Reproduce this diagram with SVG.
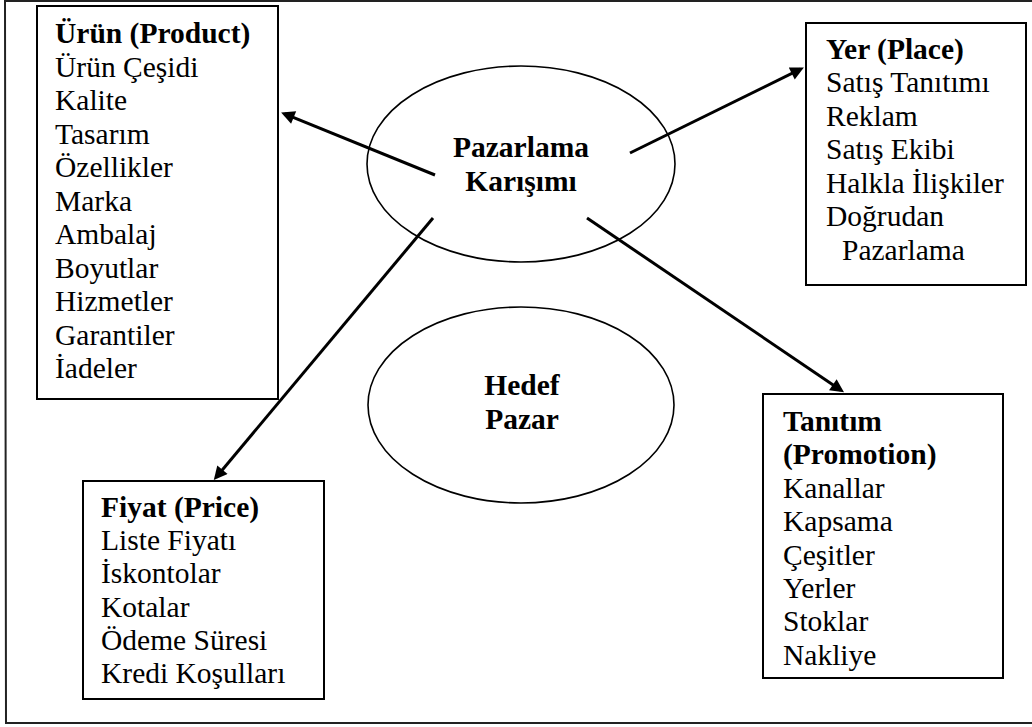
<svg xmlns="http://www.w3.org/2000/svg" width="1032" height="727" viewBox="0 0 1032 727">
<style>
.t{font-family:'Liberation Serif','Tinos','DejaVu Serif','Noto Serif',serif;font-size:29.5px;fill:#000}
.b{font-weight:bold}
.box{fill:#fff;stroke:#000;stroke-width:2}
.ell{fill:#fff;stroke:#000;stroke-width:1.6}
.con{stroke:#000;stroke-width:3;fill:none;marker-end:url(#arr)}
</style>
<defs>
<marker id="arr" viewBox="0 0 10 10" markerWidth="6" markerHeight="4.5" refX="7.22" refY="5" orient="auto" markerUnits="strokeWidth">
<path d="M0,0 L10,5 L0,10 z" fill="#000"/>
</marker>
</defs>
<rect width="1032" height="727" fill="#fff"/>
<path d="M1032,1 L5,1 L6,723 L1032,723" fill="none" stroke="#222" stroke-width="2"/>
<g id="pazarlama">
<ellipse class="ell" cx="521" cy="164" rx="154" ry="98"/>
<text class="t b" x="521" y="157" text-anchor="middle">Pazarlama</text>
<text class="t b" x="521" y="190.5" text-anchor="middle">Karışımı</text>
</g>
<g id="hedef">
<ellipse class="ell" cx="521" cy="405" rx="153" ry="98"/>
<text class="t b" x="522" y="395" text-anchor="middle">Hedef</text>
<text class="t b" x="522" y="429" text-anchor="middle">Pazar</text>
</g>
<g id="urun">
<rect class="box" x="37" y="6" width="241" height="393"/>
<text class="t b" x="55" y="43">Ürün (Product)</text>
<text class="t" x="55" y="76.5">Ürün Çeşidi</text>
<text class="t" x="55" y="110">Kalite</text>
<text class="t" x="55" y="143.5">Tasarım</text>
<text class="t" x="55" y="177">Özellikler</text>
<text class="t" x="55" y="210.5">Marka</text>
<text class="t" x="55" y="244">Ambalaj</text>
<text class="t" x="55" y="277.5">Boyutlar</text>
<text class="t" x="55" y="311">Hizmetler</text>
<text class="t" x="55" y="344.5">Garantiler</text>
<text class="t" x="55" y="378">İadeler</text>
</g>
<g id="yer">
<rect class="box" x="806" y="23" width="220" height="262"/>
<text class="t b" x="826" y="58.5">Yer (Place)</text>
<text class="t" x="826" y="92">Satış Tanıtımı</text>
<text class="t" x="826" y="125.5">Reklam</text>
<text class="t" x="826" y="159">Satış Ekibi</text>
<text class="t" x="826" y="192.5">Halkla İlişkiler</text>
<text class="t" x="826" y="226">Doğrudan</text>
<text class="t" x="842" y="259.5">Pazarlama</text>
</g>
<g id="fiyat">
<rect class="box" x="83" y="481" width="241" height="218"/>
<text class="t b" x="101" y="516.5">Fiyat (Price)</text>
<text class="t" x="101" y="550">Liste Fiyatı</text>
<text class="t" x="101" y="583">İskontolar</text>
<text class="t" x="101" y="616.5">Kotalar</text>
<text class="t" x="101" y="650">Ödeme Süresi</text>
<text class="t" x="101" y="683">Kredi Koşulları</text>
</g>
<g id="tanitim">
<rect class="box" x="763" y="394" width="240" height="284"/>
<text class="t b" x="783" y="431">Tanıtım</text>
<text class="t b" x="783" y="464.4">(Promotion)</text>
<text class="t" x="783" y="497.8">Kanallar</text>
<text class="t" x="783" y="531.2">Kapsama</text>
<text class="t" x="783" y="564.6">Çeşitler</text>
<text class="t" x="783" y="598">Yerler</text>
<text class="t" x="783" y="631.4">Stoklar</text>
<text class="t" x="783" y="664.8">Nakliye</text>
</g>
<g id="connectors">
<line class="con" x1="435" y1="175" x2="284.6" y2="113.9"/>
<line class="con" x1="630" y1="153" x2="800.5" y2="69.2"/>
<line class="con" x1="433" y1="218" x2="216.2" y2="477.2"/>
<line class="con" x1="587" y1="218" x2="840.9" y2="390.2"/>
</g>
</svg>
